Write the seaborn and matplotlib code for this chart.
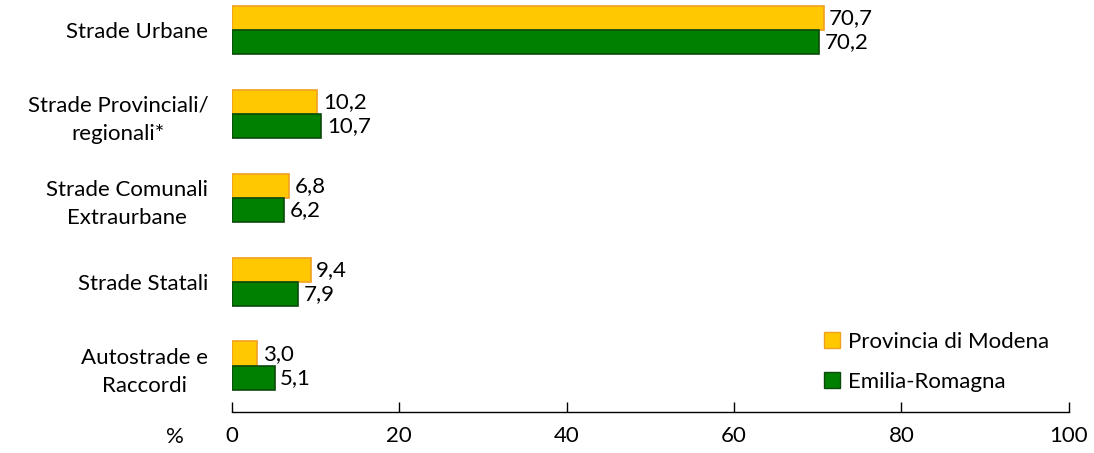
import numpy as np
import pandas as pd
import matplotlib
matplotlib.use("Agg")
import matplotlib.pyplot as plt
import seaborn as sns
from matplotlib.patches import Patch

yellow = "#FFC800"
yellow_edge = "#F0A020"
green = "#008000"
green_edge = "#0B4A0B"

categories = ["Strade Urbane", "Strade Provinciali/\nregionali*", "Strade Comunali\nExtraurbane",
              "Strade Statali", "Autostrade e\nRaccordi"]
modena = [70.7, 10.2, 6.8, 9.4, 3.0]
emilia = [70.2, 10.7, 6.2, 7.9, 5.1]
series = ["Provincia di Modena", "Emilia-Romagna"]

df = pd.DataFrame({
    "categoria": categories * 2,
    "valore": modena + emilia,
    "area": [series[0]] * len(categories) + [series[1]] * len(categories),
})

sns.set_style("white")
plt.rcParams["font.family"] = ["Lato", "DejaVu Sans"]
plt.rcParams["text.color"] = "black"
plt.rcParams["xtick.color"] = "black"
plt.rcParams["ytick.color"] = "black"

fig = plt.figure(figsize=(10.94, 4.53), dpi=100)
ax = fig.add_axes([0.212, 0.0905, 0.765, 0.9095])

sns.barplot(data=df, y="categoria", x="valore", hue="area", order=categories,
            hue_order=series, palette=[yellow, green], orient="h", width=0.58,
            saturation=1, ax=ax, legend=False)

edges = {0: yellow_edge, 1: green_edge}
for i, cont in enumerate(ax.containers):
    for p in cont:
        p.set_edgecolor(edges[i])
        p.set_linewidth(1.2)
    vals = modena if i == 0 else emilia
    ax.bar_label(cont, labels=[f"{v:.1f}".replace(".", ",") for v in vals],
                 padding=4, fontsize=16, color="black")

ax.set_xlim(0, 100)
ax.set_ylim(4.55, -0.357)
ax.set_xticks(range(0, 101, 20))
ax.tick_params(axis="x", bottom=True, direction="in", length=7, width=1, labelsize=16,
               pad=10, color="black", labelcolor="black")
ax.tick_params(axis="y", left=False, length=0, labelsize=16, pad=17, labelcolor="black")
for lbl in ax.get_yticklabels():
    lbl.set_multialignment("center")
    lbl.set_linespacing(1.5)

for s in ["top", "right", "left"]:
    ax.spines[s].set_visible(False)
ax.spines["bottom"].set_color("black")
ax.spines["bottom"].set_linewidth(1)
ax.set_xlabel("")
ax.set_ylabel("")

fig.text(175 / 1094, 1 - 437 / 453, "%", fontsize=16, ha="center", va="center")

legend_elements = [
    Patch(facecolor=yellow, edgecolor=yellow_edge, label=series[0]),
    Patch(facecolor=green, edgecolor=green_edge, label=series[1]),
]
ax.legend(handles=legend_elements, loc="lower right", bbox_to_anchor=(1.0, 0.0),
          fontsize=16, frameon=False, handlelength=0.7, handleheight=0.7,
          handletextpad=0.35, labelspacing=0.9)

fig.savefig("out.png", dpi=100)
